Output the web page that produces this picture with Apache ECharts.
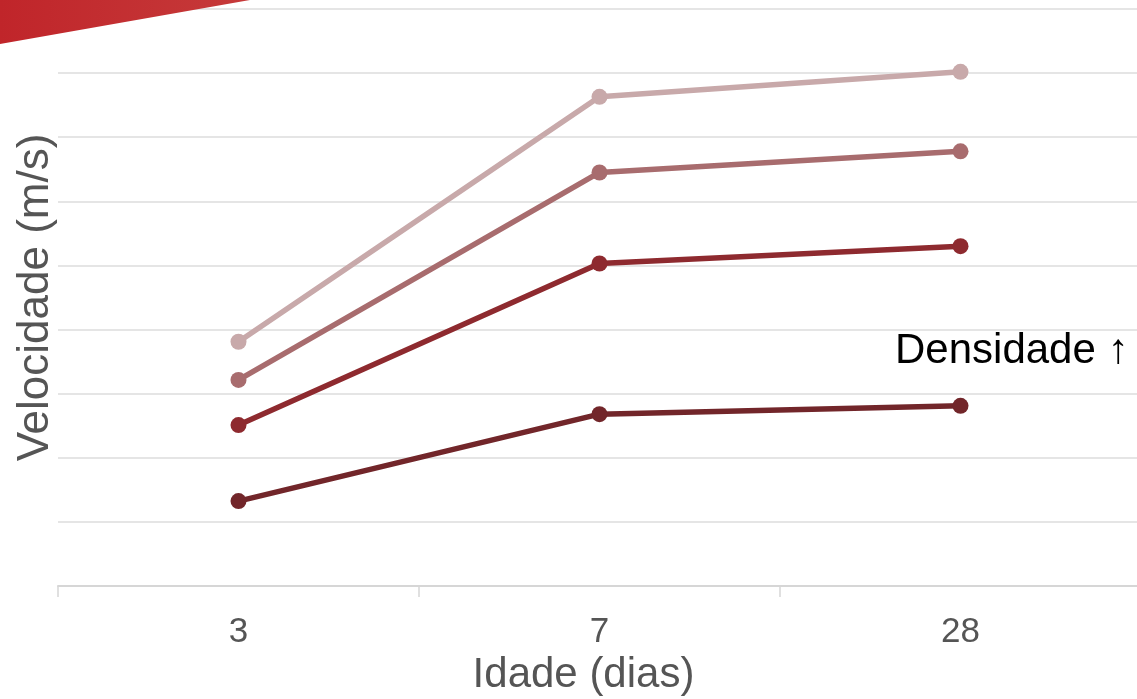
<!DOCTYPE html>
<html>
<head>
<meta charset="utf-8">
<script src="https://cdn.jsdelivr.net/npm/echarts@6/dist/echarts.min.js"></script>
<style>
html,body{margin:0;padding:0;background:#fff;}
#chart{width:1137px;height:699px;}
</style>
</head>
<body>
<div id="chart"></div>
<script>
var categories = ['3', '7', '28'];
var seriesNames = ['Densidade 1', 'Densidade 2', 'Densidade 3', 'Densidade 4'];
var densidade1 = [3065, 3336, 3362];
var densidade2 = [3302, 3806, 3860];
var densidade3 = [3443, 4090, 4156];
var densidade4 = [3562, 4326, 4404];
var seriesColors = ['#72262a', '#8e2a2f', '#a86c6e', '#c8a9aa'];
var seriesData = [densidade1, densidade2, densidade3, densidade4];

var FONT = 'Liberation Sans, Arial, sans-serif';

var chart = echarts.init(document.getElementById('chart'));
var series = seriesData.map(function (d, i) {
  return {
    name: seriesNames[i],
    type: 'line',
    data: d,
    symbol: 'circle',
    symbolSize: 16,
    lineStyle: { width: 5.5, color: seriesColors[i] },
    itemStyle: { color: seriesColors[i] },
    emphasis: { disabled: true },
    z: 2 + i
  };
});

chart.setOption({
  animation: false,
  backgroundColor: '#fff',
  grid: { left: 58, width: 1083, top: 9, bottom: 113, containLabel: false, outerBoundsMode: 'none' },
  xAxis: {
    type: 'category',
    data: categories,
    boundaryGap: true,
    axisLine: { show: true, lineStyle: { color: '#d6d6d6', width: 2 } },
    axisTick: { show: true, length: 11, lineStyle: { color: '#d6d6d6', width: 1.5 } },
    axisLabel: { color: '#555555', fontSize: 35, fontFamily: FONT, margin: 29 },
    name: 'Idade (dias)',
    nameLocation: 'middle',
    nameGap: 45,
    nameTextStyle: { color: '#555555', fontSize: 42, fontFamily: FONT, padding: [0, 32, 0, 0] }
  },
  yAxis: {
    type: 'value',
    min: 2800,
    max: 4600,
    interval: 200,
    axisLine: { show: false },
    axisTick: { show: false },
    axisLabel: { show: false },
    splitLine: { show: true, lineStyle: { color: '#dcdcdc', width: 1.5 } },
    name: 'Velocidade (m/s)',
    nameLocation: 'middle',
    nameGap: 0,
    nameTextStyle: { color: '#555555', fontSize: 44, fontFamily: FONT }
  },
  series: series,
  graphic: [
    {
      type: 'polygon',
      z: 100,
      shape: { points: [[0, 0], [250, 0], [0, 44]] },
      style: {
        fill: new echarts.graphic.LinearGradient(0, 0, 1, 0, [
          { offset: 0, color: '#c0252a' },
          { offset: 1, color: '#c63a3a' }
        ])
      }
    },
    {
      type: 'text',
      z: 100,
      left: 895,
      top: 330,
      style: {
        text: 'Densidade \u2191',
        fill: '#000000',
        font: '42px ' + FONT
      }
    }
  ]
});
</script>
</body>
</html>
